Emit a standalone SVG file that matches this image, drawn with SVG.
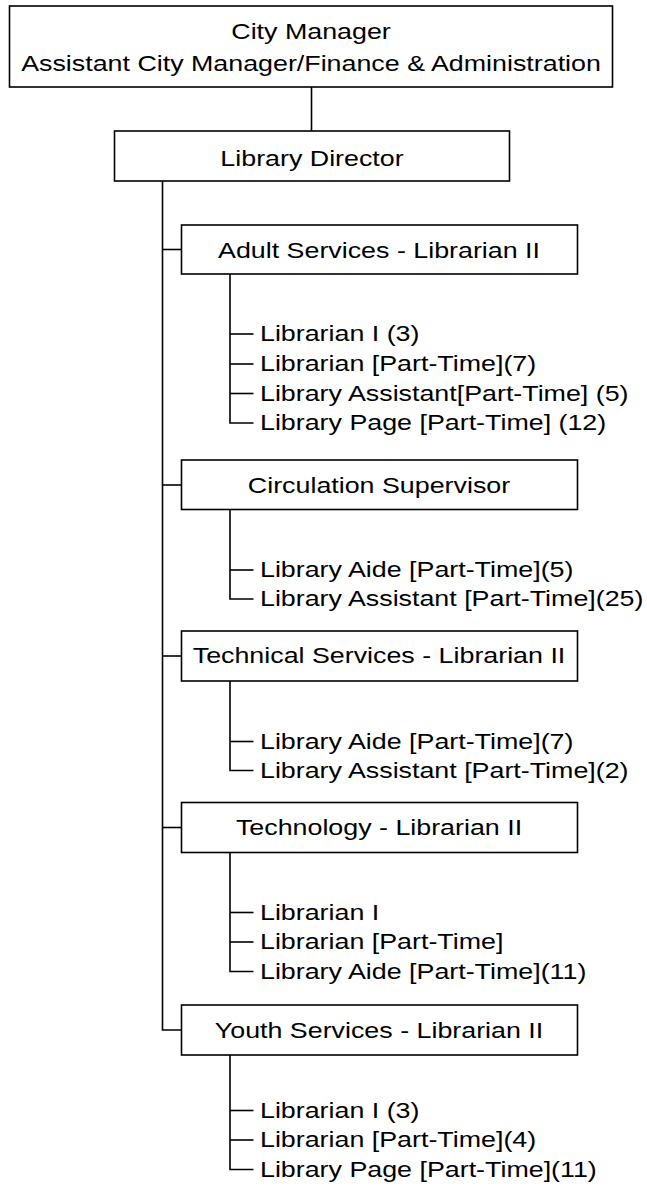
<svg xmlns="http://www.w3.org/2000/svg" width="647" height="1195" viewBox="0 0 647 1195">
  <style>
    .box { fill: #fff; stroke: #000; stroke-width: 1.6; }
    .ln { fill: none; stroke: #000; stroke-width: 1.6; }
    text { font-family: "Liberation Sans", Arial, sans-serif; font-size: 22px; fill: #000; }
    .c { text-anchor: middle; }
  </style>
  <rect width="647" height="1195" fill="#fff"/>

  <!-- connectors -->
  <g id="connectors" class="ln">
    <line x1="311.5" y1="87" x2="311.5" y2="131"/>
    <!-- director trunk to the five sections -->
    <polyline points="162.5,181 162.5,1030 181.5,1030"/>
    <line x1="162.5" y1="249.5" x2="181.5" y2="249.5"/>
    <line x1="162.5" y1="485" x2="181.5" y2="485"/>
    <line x1="162.5" y1="656" x2="181.5" y2="656"/>
    <line x1="162.5" y1="827.5" x2="181.5" y2="827.5"/>
    <!-- adult services staff -->
    <polyline points="230,274 230,423 253.5,423"/>
    <line x1="230" y1="334" x2="253.5" y2="334"/>
    <line x1="230" y1="364" x2="253.5" y2="364"/>
    <line x1="230" y1="393.5" x2="253.5" y2="393.5"/>
    <!-- circulation staff -->
    <polyline points="230,509.5 230,599 253.5,599"/>
    <line x1="230" y1="570" x2="253.5" y2="570"/>
    <!-- technical services staff -->
    <polyline points="230,681 230,770.5 253.5,770.5"/>
    <line x1="230" y1="741.5" x2="253.5" y2="741.5"/>
    <!-- technology staff -->
    <polyline points="230,852.5 230,971.5 253.5,971.5"/>
    <line x1="230" y1="912.5" x2="253.5" y2="912.5"/>
    <line x1="230" y1="942" x2="253.5" y2="942"/>
    <!-- youth services staff -->
    <polyline points="230,1055 230,1169.5 253.5,1169.5"/>
    <line x1="230" y1="1110.5" x2="253.5" y2="1110.5"/>
    <line x1="230" y1="1140" x2="253.5" y2="1140"/>
  </g>

  <!-- labels use a horizontally widened face: scale(1.22,1) -->
  <g id="city-manager">
    <rect class="box" x="9.5" y="6" width="603" height="81"/>
    <text class="c" transform="translate(311 39) scale(1.22 1)">City Manager</text>
    <text class="c" transform="translate(311 71) scale(1.22 1)">Assistant City Manager/Finance &amp; Administration</text>
  </g>

  <g id="library-director">
    <rect class="box" x="114.5" y="131" width="395" height="50"/>
    <text class="c" transform="translate(312 165.5) scale(1.22 1)">Library Director</text>
  </g>

  <g id="adult-services">
    <rect class="box" x="181.5" y="225" width="396" height="49"/>
    <text class="c" transform="translate(379 258) scale(1.22 1)">Adult Services - Librarian II</text>
  </g>
  <g id="adult-staff">
    <text transform="translate(260 341) scale(1.22 1)">Librarian I (3)</text>
    <text transform="translate(260 371) scale(1.22 1)">Librarian [Part-Time](7)</text>
    <text transform="translate(260 400.5) scale(1.22 1)">Library Assistant[Part-Time] (5)</text>
    <text transform="translate(260 430) scale(1.22 1)">Library Page [Part-Time] (12)</text>
  </g>

  <g id="circulation-supervisor">
    <rect class="box" x="181.5" y="460" width="396" height="49.5"/>
    <text class="c" transform="translate(379 493) scale(1.22 1)">Circulation Supervisor</text>
  </g>
  <g id="circulation-staff">
    <text transform="translate(260 577) scale(1.22 1)">Library Aide [Part-Time](5)</text>
    <text transform="translate(260 606) scale(1.22 1)">Library Assistant [Part-Time](25)</text>
  </g>

  <g id="technical-services">
    <rect class="box" x="181.5" y="631" width="396" height="50"/>
    <text class="c" transform="translate(379 663) scale(1.22 1)">Technical Services - Librarian II</text>
  </g>
  <g id="technical-staff">
    <text transform="translate(260 748.5) scale(1.22 1)">Library Aide [Part-Time](7)</text>
    <text transform="translate(260 777.5) scale(1.22 1)">Library Assistant [Part-Time](2)</text>
  </g>

  <g id="technology">
    <rect class="box" x="181.5" y="802.5" width="396" height="50"/>
    <text class="c" transform="translate(379 835) scale(1.22 1)">Technology - Librarian II</text>
  </g>
  <g id="technology-staff">
    <text transform="translate(260 919.5) scale(1.22 1)">Librarian I</text>
    <text transform="translate(260 949) scale(1.22 1)">Librarian [Part-Time]</text>
    <text transform="translate(260 978.5) scale(1.22 1)">Library Aide [Part-Time](11)</text>
  </g>

  <g id="youth-services">
    <rect class="box" x="181.5" y="1005" width="396" height="50"/>
    <text class="c" transform="translate(379 1037.5) scale(1.22 1)">Youth Services - Librarian II</text>
  </g>
  <g id="youth-staff">
    <text transform="translate(260 1117.5) scale(1.22 1)">Librarian I (3)</text>
    <text transform="translate(260 1147) scale(1.22 1)">Librarian [Part-Time](4)</text>
    <text transform="translate(260 1176.5) scale(1.22 1)">Library Page [Part-Time](11)</text>
  </g>
</svg>
